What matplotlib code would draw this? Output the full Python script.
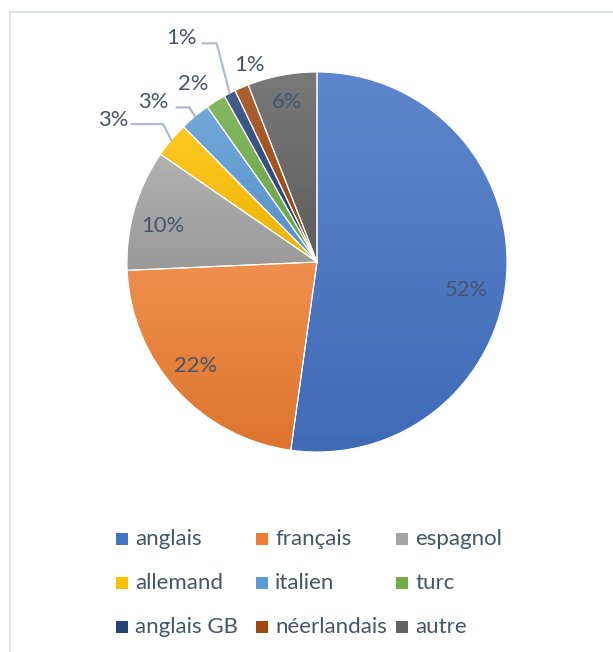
import numpy as np
import matplotlib
matplotlib.use("Agg")
import matplotlib.pyplot as plt
from matplotlib.patches import Rectangle
from matplotlib.colors import to_rgb, LinearSegmentedColormap

# ---- data ----
categories = ["anglais", "français", "espagnol", "allemand", "italien",
              "turc", "anglais GB", "néerlandais", "autre"]
values = [52.2, 22.1, 10.3, 3.0, 2.6, 1.7, 1.0, 1.2, 5.9]
colors = ["#4472C4", "#ED7D31", "#A5A5A5", "#FFC000", "#5B9BD5",
          "#70AD47", "#264478", "#9E480E", "#636363"]

# label positions in pie units (style)
label_pos = [(0.784, -0.147), (-0.637, -0.547), (-0.811, 0.189),
             (-1.074, 0.747), (-0.863, 0.842), (-0.653, 0.937),
             (-0.711, 1.179), (-0.358, 1.037), (-0.158, 0.842)]
# leader line start points (label side), None = no leader
leaders = {3: [(-0.975, 0.726), (-0.811, 0.726)],
           4: [(-0.738, 0.814), (-0.672, 0.814)],
           6: [(-0.602, 1.151), (-0.528, 1.151)]}

TXT = "#44546A"
FONT = "Lato"
W, H = 613, 652
cx, cy, R = 317, 262, 190

fig = plt.figure(figsize=(W / 100, H / 100), dpi=100)
fig.patch.set_facecolor("white")

# full-figure overlay axes in pixel coords (border + legend)
ov = fig.add_axes([0, 0, 1, 1])
ov.set_xlim(0, W)
ov.set_ylim(H, 0)
ov.axis("off")
ov.plot([10, W], [12, 12], color="#D9DEE6", lw=1.2)
ov.plot([10, 10], [12, H], color="#D9DEE6", lw=1.2)

ax = fig.add_axes([(cx - R) / W, (H - cy - R) / H, 2 * R / W, 2 * R / H])
ax.axis("off")

wedges, _ = ax.pie(values, colors=colors, startangle=90, counterclock=False,
                   radius=1, wedgeprops=dict(edgecolor="white", linewidth=0.8))


def mix(c, other, t):
    c = np.array(to_rgb(c))
    return tuple(c * (1 - t) + np.array(other) * t)


for w, c in zip(wedges, colors):
    ext = w.get_path().get_extents()
    light = mix(c, (1, 1, 1), 0.14)
    dark = mix(c, (0, 0, 0), 0.07)
    cmap = LinearSegmentedColormap.from_list("g", [dark, light])
    grad = np.linspace(1, 0, 256).reshape(-1, 1)
    im = ax.imshow(grad, cmap=cmap, aspect="auto", origin="upper",
                   extent=(ext.x0, ext.x1, ext.y0, ext.y1), zorder=0.5,
                   interpolation="bilinear")
    im.set_clip_path(w)
    w.set_facecolor("none")
    w.set_zorder(1)

ax.set_xlim(-1, 1)
ax.set_ylim(-1, 1)

# labels
total = sum(values)
cum = np.cumsum([0] + values)
for i, (v, (lx, ly)) in enumerate(zip(values, label_pos)):
    ax.text(lx, ly, f"{v / total * 100:.0f}%", ha="center", va="center",
            fontsize=15.8, color=TXT, family=FONT, clip_on=False, zorder=5)
    if i in leaders:
        mid = (cum[i] + cum[i + 1]) / 2 / total * 2 * np.pi
        ex, ey = np.sin(mid), np.cos(mid)
        pts = leaders[i] + [(ex, ey)]
        xs, ys = zip(*pts)
        ax.plot(xs, ys, color="#AFBACB", lw=1.6, clip_on=False, zorder=4)

# legend (manual, Excel-like fixed columns)
for i, (name, c) in enumerate(zip(categories, colors)):
    row, col = divmod(i, 3)
    x = 116 + col * 140
    y = 539 + row * 44
    ov.add_patch(Rectangle((x, y - 6), 12, 12, facecolor=c, edgecolor="none"))
    ov.text(x + 19, y, name, ha="left", va="center", fontsize=16,
            color=TXT, family=FONT)

fig.savefig("out.png", dpi=100)
